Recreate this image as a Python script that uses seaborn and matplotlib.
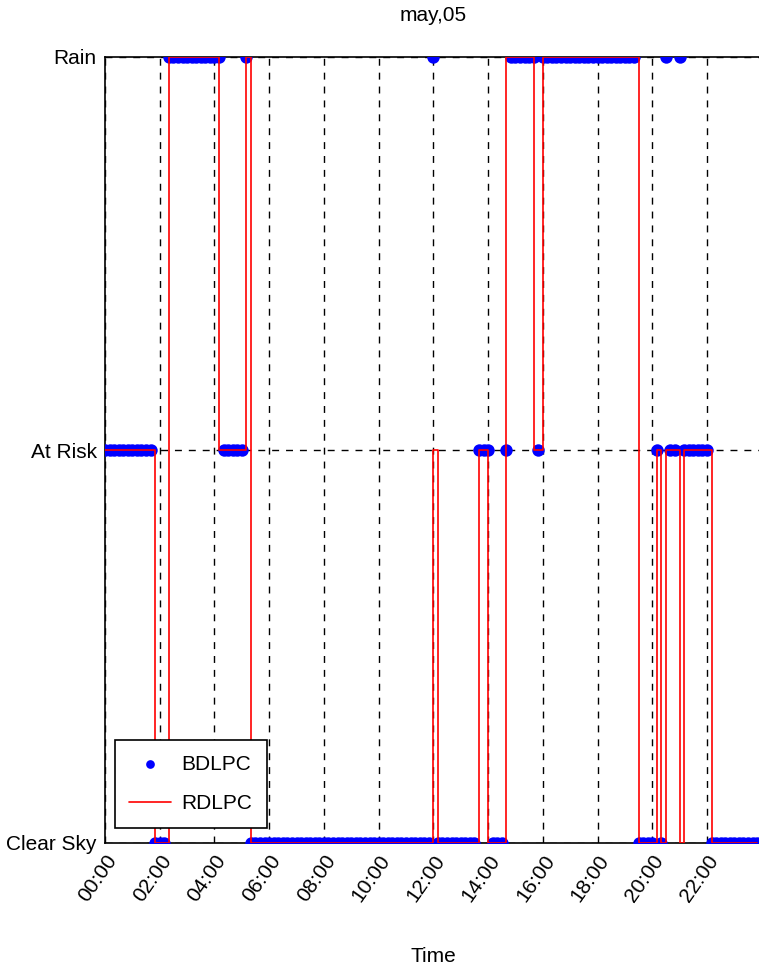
import numpy as np
import pandas as pd
import matplotlib.pyplot as plt
import seaborn as sns

# samples every 10 minutes over the day, 0 = Clear Sky, 1 = At Risk, 2 = Rain
hours = np.arange(144) / 6.0

bdlpc = [1, 1, 1, 1, 1, 1, 1, 1, 1, 1, 1, 0,
         0, 0, 2, 2, 2, 2, 2, 2, 2, 2, 2, 2,
         2, 2, 1, 1, 1, 1, 1, 2, 0, 0, 0, 0,
         0, 0, 0, 0, 0, 0, 0, 0, 0, 0, 0, 0,
         0, 0, 0, 0, 0, 0, 0, 0, 0, 0, 0, 0,
         0, 0, 0, 0, 0, 0, 0, 0, 0, 0, 0, 0,
         2, 0, 0, 0, 0, 0, 0, 0, 0, 0, 1, 1,
         1, 0, 0, 0, 1, 2, 2, 2, 2, 2, 2, 1,
         2, 2, 2, 2, 2, 2, 2, 2, 2, 2, 2, 2,
         2, 2, 2, 2, 2, 2, 2, 2, 2, 0, 0, 0,
         0, 1, 0, 2, 1, 1, 2, 1, 1, 1, 1, 1,
         1, 0, 0, 0, 0, 0, 0, 0, 0, 0, 0, 0]

rdlpc = [1, 1, 1, 1, 1, 1, 1, 1, 1, 1, 1, 0,
         0, 0, 2, 2, 2, 2, 2, 2, 2, 2, 2, 2,
         2, 1, 1, 1, 1, 1, 1, 2, 0, 0, 0, 0,
         0, 0, 0, 0, 0, 0, 0, 0, 0, 0, 0, 0,
         0, 0, 0, 0, 0, 0, 0, 0, 0, 0, 0, 0,
         0, 0, 0, 0, 0, 0, 0, 0, 0, 0, 0, 0,
         1, 0, 0, 0, 0, 0, 0, 0, 0, 0, 1, 1,
         0, 0, 0, 0, 2, 2, 2, 2, 2, 2, 1, 1,
         2, 2, 2, 2, 2, 2, 2, 2, 2, 2, 2, 2,
         2, 2, 2, 2, 2, 2, 2, 2, 2, 0, 0, 0,
         0, 1, 0, 1, 1, 1, 0, 1, 1, 1, 1, 1,
         1, 0, 0, 0, 0, 0, 0, 0, 0, 0, 0, 0]

levels = ['Clear Sky', 'At Risk', 'Rain']
tick_hours = np.arange(0, 24, 2)
tick_labels = [f"{h:02d}:00" for h in tick_hours]

df = pd.DataFrame({'Time': hours, 'BDLPC': bdlpc, 'RDLPC': rdlpc})

sns.set_style('white', {'text.color': 'black', 'axes.labelcolor': 'black',
                        'xtick.color': 'black', 'ytick.color': 'black'})
plt.rcParams['font.family'] = ['Liberation Sans', 'DejaVu Sans']

fig = plt.figure(figsize=(7.59, 9.74), dpi=100)
ax = fig.add_axes([105 / 759, 1 - 843 / 974, 656.7 / 759, 786 / 974])

sns.scatterplot(data=df, x='Time', y='BDLPC', ax=ax, color='#0000ff', s=80,
                linewidth=0, label='BDLPC', zorder=3)
sns.lineplot(data=df, x='Time', y='RDLPC', ax=ax, color='#ff0000', linewidth=1.2,
             drawstyle='steps-post', label='RDLPC', zorder=4)

ax.set_xlim(0, 24)
ax.set_ylim(0, 2)
ax.set_xticks(tick_hours)
ax.set_xticklabels(tick_labels, rotation=55, ha='right', va='top', rotation_mode='anchor', fontsize=15)
ax.set_yticks([0, 1, 2])
ax.set_yticklabels(levels, fontsize=15)
ax.tick_params(direction='in', length=5, color='black', pad=6)
ax.grid(True, linestyle=(0, (5, 5)), color='black', linewidth=1)
ax.set_axisbelow(True)
for s in ax.spines.values():
    s.set_color('black')
    s.set_linewidth(1.2)

ax.set_xlabel('Time', fontsize=15, labelpad=30)
ax.set_ylabel('')
ax.set_title('may,05', fontsize=15, pad=26)

leg = ax.legend(loc='lower left', bbox_to_anchor=(0.015, 0.019), borderaxespad=0,
                fontsize=15, frameon=True, fancybox=False, framealpha=1, edgecolor='black',
                borderpad=0.7, handlelength=2.0, handletextpad=0.5, labelspacing=1.0,
                markerscale=0.7)
leg.get_frame().set_linewidth(1.2)

fig.savefig('out.png', dpi=100)
